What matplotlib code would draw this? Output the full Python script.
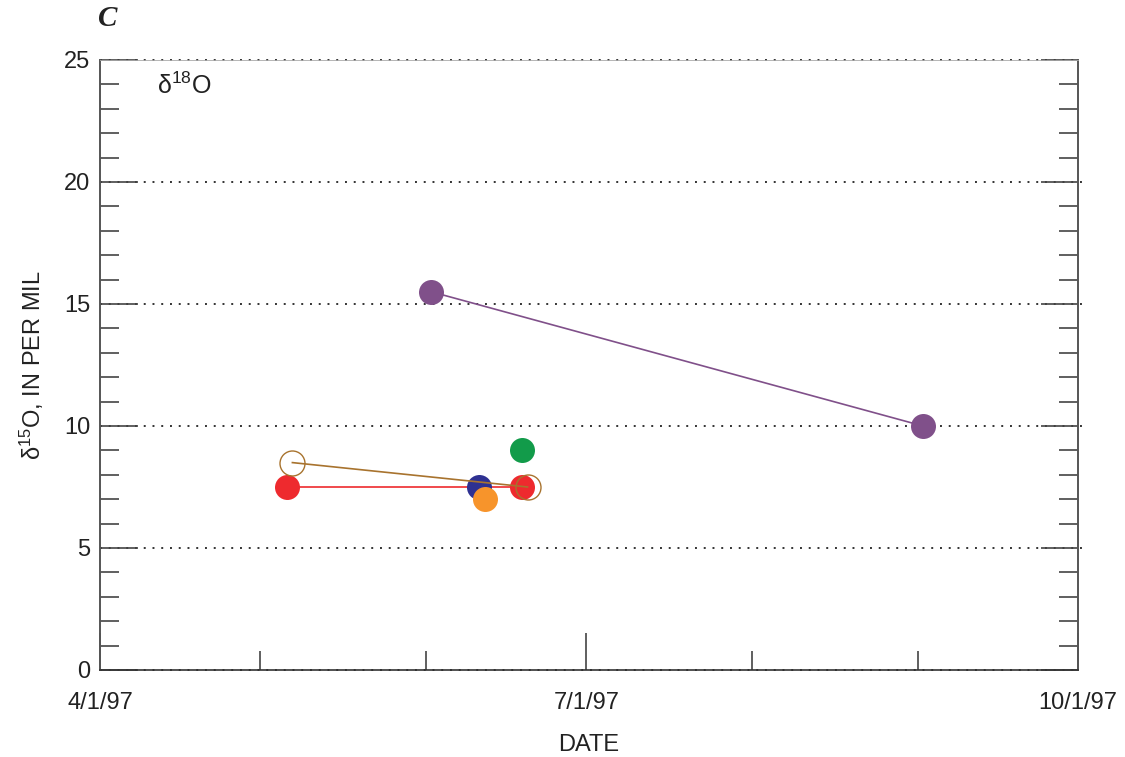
import matplotlib
matplotlib.use("Agg")
import matplotlib.pyplot as plt
from datetime import datetime

plt.rcParams['font.family'] = ['Liberation Sans', 'DejaVu Sans']
plt.rcParams['mathtext.fontset'] = 'custom'
plt.rcParams['mathtext.rm'] = 'Liberation Sans'

# Data
purple_dates = ["1997-06-02", "1997-09-02"]
purple_vals = [15.5, 10.0]
red_dates = ["1997-05-06", "1997-06-19"]
red_vals = [7.5, 7.5]
brown_dates = ["1997-05-07", "1997-06-20"]
brown_vals = [8.5, 7.5]
blue_dates = ["1997-06-11"]
blue_vals = [7.5]
orange_dates = ["1997-06-12"]
orange_vals = [7.0]
green_dates = ["1997-06-19"]
green_vals = [9.0]

x_major = ["1997-04-01", "1997-07-01", "1997-10-01"]
x_major_labels = ["4/1/97", "7/1/97", "10/1/97"]
x_minor = ["1997-05-01", "1997-06-01", "1997-08-01", "1997-09-01"]
y_major = [0, 5, 10, 15, 20, 25]
grid_vals = [5, 10, 15, 20]

def d(lst):
    return [datetime.strptime(s, "%Y-%m-%d") for s in lst]

W, H = 1125, 757
fig = plt.figure(figsize=(W / 100, H / 100), dpi=100)
ax = fig.add_axes([100 / W, 1 - 670 / H, 978 / W, 610 / H])

ax.set_xlim(datetime(1997, 4, 1), datetime(1997, 10, 1))
ax.set_ylim(0, 25)

dot = (0, (1, 3.5))
gridc = '#333333'
for g in grid_vals:
    ax.plot([0, 1.009], [g, g], transform=ax.get_yaxis_transform(), color=gridc,
            lw=1.4, linestyle=dot, clip_on=False, zorder=1)
for g in [0, 25]:
    ax.plot([0, 1], [g, g], transform=ax.get_yaxis_transform(), color=gridc,
            lw=1.4, linestyle=dot, clip_on=False, zorder=1)

ms = 18
purple = '#80508a'
red = '#ee2a2e'
brown = '#a8732e'
blue = '#2e3192'
orange = '#f7942b'
green = '#129b4a'

ax.plot(d(purple_dates), purple_vals, color=purple, lw=1.2, zorder=2)
ax.plot(d(purple_dates), purple_vals, 'o', color=purple, ms=ms, mew=0, zorder=3)

ax.plot(d(red_dates), red_vals, color=red, lw=1.2, zorder=2)
ax.plot(d(red_dates), red_vals, 'o', color=red, ms=ms, mew=0, zorder=3)

ax.plot(d(blue_dates), blue_vals, 'o', color=blue, ms=ms, mew=0, zorder=4)
ax.plot(d(orange_dates), orange_vals, 'o', color=orange, ms=ms, mew=0, zorder=5)
ax.plot(d(green_dates), green_vals, 'o', color=green, ms=ms, mew=0, zorder=4)

ax.plot(d(brown_dates), brown_vals, 'o', mfc='none', mec=brown, mew=1.0, ms=ms, zorder=6)
ax.plot(d(brown_dates), brown_vals, color=brown, lw=1.2, zorder=6)

for s in ['left', 'right']:
    ax.spines[s].set_color('#555555')
    ax.spines[s].set_linewidth(1.4)
ax.spines['bottom'].set_color('#333333')
ax.spines['bottom'].set_linewidth(1.2)
ax.spines['top'].set_color('#aaaaaa')
ax.spines['top'].set_linewidth(0.6)

ax.set_xticks(d(x_major))
ax.set_xticklabels(x_major_labels)
ax.set_xticks(d(x_minor), minor=True)
ax.set_yticks(y_major)
ax.set_yticks(range(0, 26), minor=True)
ax.tick_params(axis='x', which='major', direction='in', length=27, width=1.2,
               color='#444444', labelsize=17, pad=16, labelcolor='#222222')
ax.tick_params(axis='x', which='minor', direction='in', length=13.5, width=1.2,
               color='#444444')
ax.tick_params(axis='y', which='major', direction='in', length=27, width=1.2,
               color='#444444', labelsize=17, pad=7, right=True, labelcolor='#222222')
ax.tick_params(axis='y', which='minor', direction='in', length=13.5, width=1.2,
               color='#444444', right=True)

ax.set_xlabel('DATE', fontsize=17, color='#222222', labelpad=14)
ax.set_ylabel(r'$\mathregular{\delta^{15}}$O, IN PER MIL', fontsize=17, color='#222222', labelpad=13)

ax.text(0.058, 0.957, r'$\mathregular{\delta^{18}}$O', transform=ax.transAxes, fontsize=18,
        color='#222222', ha='left', va='center')

fig.text(108 / W, 1 - 18 / H, 'C', fontsize=21, fontstyle='italic', fontweight='bold',
         family='Liberation Serif', color='#222222', ha='center', va='center')

fig.savefig('out.png', dpi=100)
